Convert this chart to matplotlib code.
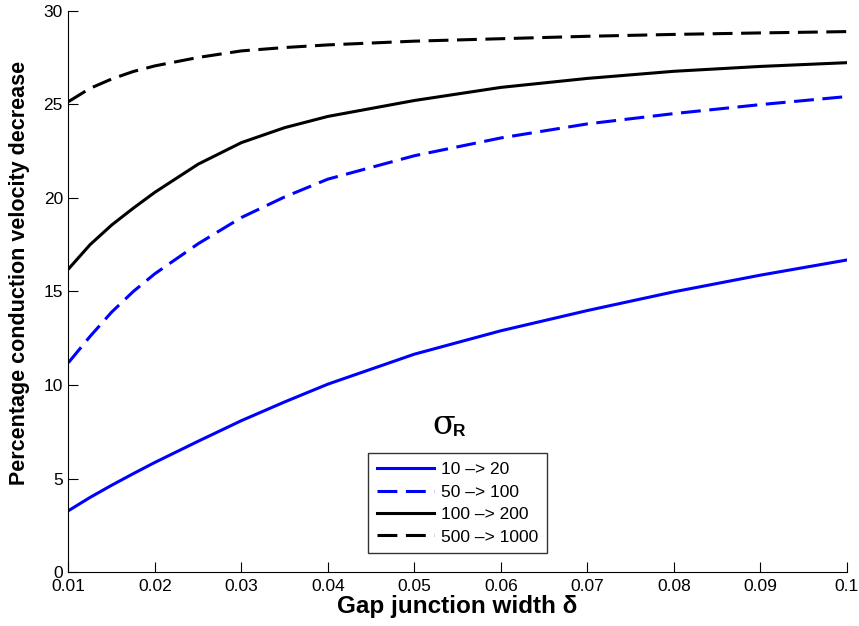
import numpy as np
import matplotlib
matplotlib.use("Agg")
import matplotlib.pyplot as plt

# valores
delta = [0.01, 0.0125, 0.015, 0.0175, 0.02, 0.025, 0.03, 0.035, 0.04,
         0.05, 0.06, 0.07, 0.08, 0.09, 0.1]
cv_10_20 = [3.29, 4.0, 4.65, 5.27, 5.87, 7.0, 8.1, 9.1, 10.05,
            11.65, 12.9, 13.98, 14.98, 15.87, 16.68]
cv_50_100 = [11.2, 12.6, 13.9, 15.0, 15.95, 17.55, 18.95, 20.05, 21.0,
             22.25, 23.2, 23.95, 24.5, 24.98, 25.41]
cv_100_200 = [16.2, 17.5, 18.55, 19.45, 20.3, 21.8, 22.95, 23.75, 24.35,
              25.2, 25.9, 26.38, 26.76, 27.02, 27.22]
cv_500_1000 = [25.14, 25.85, 26.35, 26.75, 27.05, 27.5, 27.85, 28.03, 28.17,
               28.37, 28.5, 28.63, 28.73, 28.81, 28.88]
labels = ["10 \u2013> 20", "50 \u2013> 100", "100 \u2013> 200", "500 \u2013> 1000"]

plt.rcParams['font.family'] = ['Liberation Sans', 'DejaVu Sans']

fig = plt.figure(figsize=(8.59, 6.26), dpi=100)
ax = fig.add_axes([0.0797, 0.0858, 0.906, 0.8972])

lw = 2.2
dash = (6.5, 2.8)
ax.plot(delta, cv_10_20, color='#0000ff', lw=lw, label=labels[0])
ax.plot(delta, cv_50_100, color='#0000ff', lw=lw, dashes=dash, label=labels[1])
ax.plot(delta, cv_100_200, color='black', lw=lw, label=labels[2])
ax.plot(delta, cv_500_1000, color='black', lw=lw, dashes=dash, label=labels[3])

ax.set_xlim(0.01, 0.1)
ax.set_ylim(0, 30)
ax.set_xticks(np.arange(0.01, 0.1001, 0.01))
ax.set_xticklabels(["0.01", "0.02", "0.03", "0.04", "0.05", "0.06",
                    "0.07", "0.08", "0.09", "0.1"])
ax.set_yticks([0, 5, 10, 15, 20, 25, 30])
ax.tick_params(direction='in', length=7, width=0.8, labelsize=12.5)
ax.tick_params(axis='x', pad=5)
ax.tick_params(axis='y', pad=4)
ax.spines['top'].set_visible(False)
ax.spines['right'].set_visible(False)

ax.set_xlabel("Gap junction width \u03b4", fontsize=17.5, fontweight='bold')
ax.xaxis.set_label_coords(0.5, -0.040)
ax.set_ylabel("Percentage conduction velocity decrease", fontsize=15.5,
              fontweight='bold')
ax.yaxis.set_label_coords(-0.049, 0.533)

leg = ax.legend(loc='lower center', bbox_to_anchor=(0.5, 0.034), fontsize=12.5,
                frameon=True, fancybox=False, handlelength=3.3,
                borderpad=0.5, labelspacing=0.42, handletextpad=0.4,
                borderaxespad=0)
leg.get_frame().set_edgecolor('black')
leg.get_frame().set_linewidth(1.0)

# titulo da legenda fora da caixa, como no original
ax.text(0.4825, 0.262, "\u03c3", transform=ax.transAxes,
        ha='center', va='center', fontsize=24, family='DejaVu Serif')
ax.text(0.4945, 0.2427, "R", transform=ax.transAxes,
        ha='left', va='baseline', fontsize=12.5, fontweight='bold')

plt.savefig("out.png", dpi=100)
